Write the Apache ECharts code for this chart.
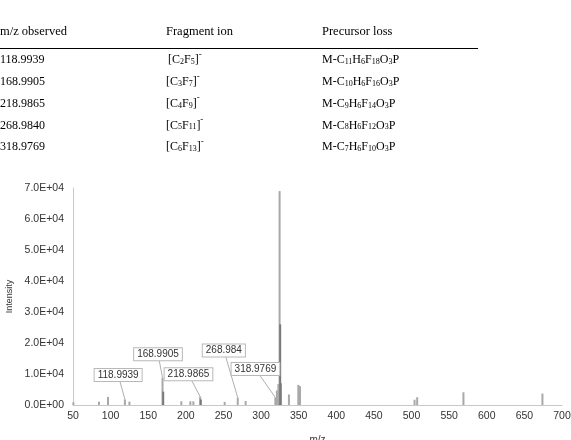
<!DOCTYPE html>
<html>
<head>
<meta charset="utf-8">
<script src="https://cdn.jsdelivr.net/npm/echarts@6/dist/echarts.min.js"></script>
<style>
html,body{margin:0;padding:0;background:#fff;}
#chart{width:571px;height:440px;}
</style>
</head>
<body>
<div id="chart"></div>
<script>
// ---- Table data ----
const tableHeaders = ['m/z observed', 'Fragment ion', 'Precursor loss'];
const mzObserved = ['118.9939', '168.9905', '218.9865', '268.9840', '318.9769'];
const fragmentIon = ['[C2F5]-', '[C3F7]-', '[C4F9]-', '[C5F11]-', '[C6F13]-'];
const precursorLoss = ['M-C11H6F18O3P', 'M-C10H6F16O3P', 'M-C9H6F14O3P', 'M-C8H6F12O3P', 'M-C7H6F10O3P'];

// ---- Spectrum data ----
const lightMz = [50.5, 84.5, 96.5, 118.99, 125, 168.99, 194, 206, 210, 218.99, 251.6, 268.98, 279.5, 318.98, 321, 323, 324.6, 337, 349.5, 351.7, 504, 507.5, 569, 674];
const lightIntensity = [900, 1100, 2600, 1800, 1100, 8800, 1200, 1200, 1200, 2700, 1000, 2400, 1300, 2400, 4700, 6800, 69000, 3400, 6500, 6100, 1700, 2500, 4100, 3700];
const darkMz = [169.9, 219.9, 325.4, 326.2];
const darkIntensity = [4300, 1800, 26000, 7000];

// ---- Annotations (label box centre and the peak it points to) ----
const annoText = ['118.9939', '168.9905', '218.9865', '268.984', '318.9769'];
const annoBoxMz = [110, 163, 203.5, 250.5, 292.5];
const annoBoxIntensity = [9700, 16400, 9900, 17600, 11600];
const annoPeakMz = [118.99, 168.99, 218.99, 268.98, 318.98];
const annoPeakIntensity = [1800, 8800, 2700, 2400, 2400];

// ---- Axis ticks ----
const xMin = 50, xMax = 700, xStep = 50;
const yMin = 0, yMax = 70000, yStep = 10000;

function sciLabel(v) {
  if (v === 0) return '0.0E+00';
  const e = Math.floor(Math.log10(v));
  const m = v / Math.pow(10, e);
  return m.toFixed(1) + 'E+' + String(e).padStart(2, '0');
}

function toRich(s) {
  // digits following an element symbol become subscripts, trailing '-' is a superscript charge
  let out = '';
  let i = 0;
  while (i < s.length) {
    const c = s[i];
    if (/[0-9]/.test(c)) {
      let j = i;
      while (j < s.length && /[0-9]/.test(s[j])) j++;
      out += '{sub|' + s.slice(i, j) + '}';
      i = j;
    } else if (c === '-' && i === s.length - 1) {
      out += '{sup|-}';
      i++;
    } else {
      let j = i;
      while (j < s.length && !(/[0-9]/.test(s[j])) && !(s[j] === '-' && j === s.length - 1)) j++;
      if (j === i) j = i + 1;
      out += '{n|' + s.slice(i, j) + '}';
      i = j;
    }
  }
  return out;
}

const serif = '"Liberation Serif", "Times New Roman", serif';
const richStyles = {
  n: { fontSize: 12, fontFamily: serif, fill: '#000', lineHeight: 16, verticalAlign: 'bottom' },
  sub: { fontSize: 8, fontFamily: serif, fill: '#000', lineHeight: 16, verticalAlign: 'bottom' },
  sup: { fontSize: 9, fontFamily: serif, fill: '#000', lineHeight: 16, verticalAlign: 'top' }
};

const colX = [0, 166, 322];
const headerY = 32;
const rowY0 = 58, rowStep = 21.8;

const graphics = [];
tableHeaders.forEach((h, k) => {
  graphics.push({
    type: 'text', x: colX[k], y: headerY,
    style: { text: h, font: '12.5px ' + serif, fill: '#000', verticalAlign: 'middle' }
  });
});
graphics.push({
  type: 'line', shape: { x1: 0, y1: 48.5, x2: 478, y2: 48.5 },
  style: { stroke: '#000', lineWidth: 1 }
});
for (let r = 0; r < mzObserved.length; r++) {
  const y = rowY0 + r * rowStep;
  [mzObserved[r], fragmentIon[r], precursorLoss[r]].forEach((t, k) => {
    const rich = k === 0 ? '{n|' + t + '}' : toRich(t);
    graphics.push({
      type: 'text', x: colX[k] + (k === 1 && r === 0 ? 2 : 0), y: y,
      style: { text: rich, rich: richStyles, font: '12px ' + serif, fill: '#000', verticalAlign: 'middle' }
    });
  });
}

function peakSeries(xs, ys, color, z) {
  return {
    type: 'custom',
    z: z,
    data: xs.map((x, i) => [x, ys[i]]),
    renderItem: function (params, api) {
      const top = api.coord([api.value(0), api.value(1)]);
      const base = api.coord([api.value(0), 0]);
      return {
        type: 'line',
        shape: { x1: top[0], y1: top[1], x2: base[0], y2: base[1] },
        style: { stroke: color, lineWidth: 2 }
      };
    }
  };
}

const option = {
  backgroundColor: '#fff',
  animation: false,
  graphic: graphics,
  grid: { left: 73, right: 9, top: 188, bottom: 35, containLabel: false, outerBoundsMode: 'none' },
  xAxis: {
    type: 'value', min: xMin, max: xMax, interval: xStep,
    name: 'm/z', nameLocation: 'middle', nameGap: 30,
    nameTextStyle: { fontFamily: 'Liberation Sans, Arial', fontSize: 10, color: '#333' },
    axisLine: { show: true, lineStyle: { color: '#c8c8c8', width: 1 } },
    axisTick: { show: false },
    splitLine: { show: false },
    axisLabel: { fontFamily: 'Liberation Sans, Arial', fontSize: 10.5, color: '#333', margin: 6 }
  },
  yAxis: {
    type: 'value', min: yMin, max: yMax, interval: yStep,
    name: 'Intensity', nameLocation: 'middle', nameRotate: 90, nameGap: 51,
    nameTextStyle: { fontFamily: 'Liberation Sans, Arial', fontSize: 9, color: '#333' },
    axisLine: { show: true, lineStyle: { color: '#c8c8c8', width: 1 } },
    axisTick: { show: false },
    splitLine: { show: false },
    axisLabel: { fontFamily: 'Liberation Sans, Arial', fontSize: 10.5, color: '#333', margin: 9, formatter: sciLabel }
  },
  series: [
    peakSeries(lightMz, lightIntensity, '#a8a8a8', 2),
    peakSeries(darkMz, darkIntensity, '#7a7a7a', 3),
    {
      type: 'custom',
      z: 10,
      data: annoText.map((t, i) => [annoBoxMz[i], annoBoxIntensity[i], annoPeakMz[i], annoPeakIntensity[i], i]),
      renderItem: function (params, api) {
        const box = api.coord([api.value(0), api.value(1)]);
        const peak = api.coord([api.value(2), api.value(3)]);
        const i = api.value(4);
        return {
          type: 'group',
          children: [
            {
              type: 'line', z2: 1,
              shape: { x1: box[0], y1: box[1], x2: peak[0], y2: peak[1] },
              style: { stroke: '#b0b0b0', lineWidth: 1 }
            },
            {
              type: 'text', z2: 2,
              x: box[0], y: box[1],
              style: {
                text: annoText[i], fontFamily: 'Liberation Sans, Arial', fontSize: 10, fill: '#333',
                align: 'center', verticalAlign: 'middle',
                backgroundColor: '#fff', borderColor: '#b8b8b8', borderWidth: 1, padding: [1, 3, 1, 3]
              }
            }
          ]
        };
      }
    }
  ]
};

const chart = echarts.init(document.getElementById('chart'), null, { renderer: 'canvas' });
chart.setOption(option);
</script>
</body>
</html>
